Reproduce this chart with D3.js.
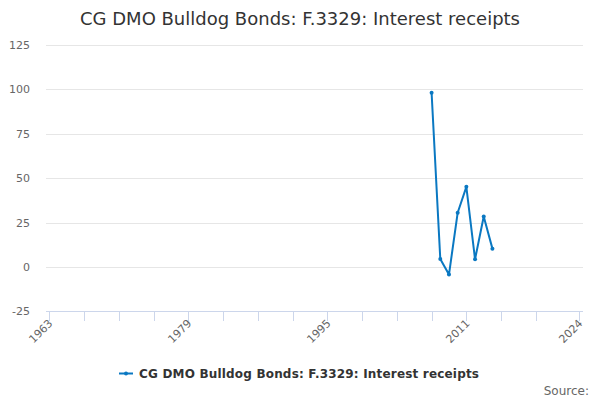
<!DOCTYPE html>
<html>
<head>
<meta charset="utf-8">
<script src="https://cdn.jsdelivr.net/npm/d3@7"></script>
<style>
  body { margin: 0; background: #fff; }
  svg { font-family: "DejaVu Sans", sans-serif; }
</style>
</head>
<body>
<svg></svg>
<script>
// Chart data
var title = "CG DMO Bulldog Bonds: F.3329: Interest receipts";
var seriesName = "CG DMO Bulldog Bonds: F.3329: Interest receipts";
var years = [2007, 2008, 2009, 2010, 2011, 2012, 2013, 2014];
var values = [98.1, 4.5, -4.3, 30.5, 45.1, 4.3, 28.4, 10.3];
var yTicks = [-25, 0, 25, 50, 75, 100, 125];
var xTicks = [1963, 1967, 1971, 1975, 1979, 1983, 1987, 1991, 1995, 1999, 2003, 2007, 2011, 2015, 2019, 2024];
var xLabels = [1963, 1979, 1995, 2011, 2024];

var width = 600;
var height = 400;
var color = "#0a78c2";

var svg = d3.select("svg")
  .attr("width", width)
  .attr("height", height);

// Scales
var x = d3.scaleLinear()
  .domain([1963, 2024])
  .range([49.3, 579.3]);

var y = d3.scaleLinear()
  .domain([-25, 125])
  .range([311.3, 45]);

// Title
svg.append("text")
  .attr("x", width / 2)
  .attr("y", 25)
  .attr("text-anchor", "middle")
  .attr("font-size", 18)
  .attr("fill", "#333")
  .text(title);

// Horizontal grid lines
svg.append("g")
  .selectAll("line")
  .data(yTicks.slice(1))
  .enter()
  .append("line")
  .attr("x1", 46)
  .attr("x2", 583)
  .attr("y1", function(d) { return Math.round(y(d)) + 0.5; })
  .attr("y2", function(d) { return Math.round(y(d)) + 0.5; })
  .attr("stroke", "#e6e6e6")
  .attr("stroke-width", 1);

// Y axis labels
svg.append("g")
  .selectAll("text")
  .data(yTicks)
  .enter()
  .append("text")
  .attr("x", 30)
  .attr("y", function(d) { return y(d) + 4; })
  .attr("text-anchor", "end")
  .attr("font-size", 11)
  .attr("fill", "#666")
  .text(function(d) { return d; });

// X axis line and ticks
var xAxis = svg.append("g");
xAxis.append("line")
  .attr("x1", 46)
  .attr("x2", 583)
  .attr("y1", 311.5)
  .attr("y2", 311.5)
  .attr("stroke", "#ccd6eb");

xAxis.selectAll(".tick")
  .data(xTicks)
  .enter()
  .append("line")
  .attr("class", "tick")
  .attr("x1", function(d) { return Math.round(x(d)) + 0.5; })
  .attr("x2", function(d) { return Math.round(x(d)) + 0.5; })
  .attr("y1", 311)
  .attr("y2", 321)
  .attr("stroke", "#ccd6eb");

xAxis.selectAll(".label")
  .data(xLabels)
  .enter()
  .append("text")
  .attr("class", "label")
  .attr("text-anchor", "end")
  .attr("font-size", 11)
  .attr("fill", "#666")
  .attr("transform", function(d) {
    return "translate(" + (x(d) + 4) + ",324) rotate(-45)";
  })
  .text(function(d) { return d; });

// Series line
var line = d3.line()
  .x(function(d, i) { return x(years[i]); })
  .y(function(d) { return y(d); });

svg.append("path")
  .datum(values)
  .attr("d", line)
  .attr("fill", "none")
  .attr("stroke", color)
  .attr("stroke-width", 2)
  .attr("stroke-linejoin", "round");

svg.append("g")
  .selectAll("circle")
  .data(values)
  .enter()
  .append("circle")
  .attr("cx", function(d, i) { return x(years[i]); })
  .attr("cy", function(d) { return y(d); })
  .attr("r", 2)
  .attr("fill", color);

// Legend
var legend = svg.append("g");
legend.append("line")
  .attr("x1", 119)
  .attr("x2", 133)
  .attr("y1", 373.5)
  .attr("y2", 373.5)
  .attr("stroke", color)
  .attr("stroke-width", 2);
legend.append("circle")
  .attr("cx", 126)
  .attr("cy", 373.5)
  .attr("r", 2)
  .attr("fill", color);
legend.append("text")
  .attr("x", 139)
  .attr("y", 378)
  .attr("font-size", 12)
  .attr("font-weight", "bold")
  .attr("fill", "#333")
  .attr("textLength", 340)
  .text(seriesName);

// Source
svg.append("text")
  .attr("x", 589)
  .attr("y", 395)
  .attr("text-anchor", "end")
  .attr("font-size", 12)
  .attr("fill", "#666")
  .text("Source:");
</script>
</body>
</html>
